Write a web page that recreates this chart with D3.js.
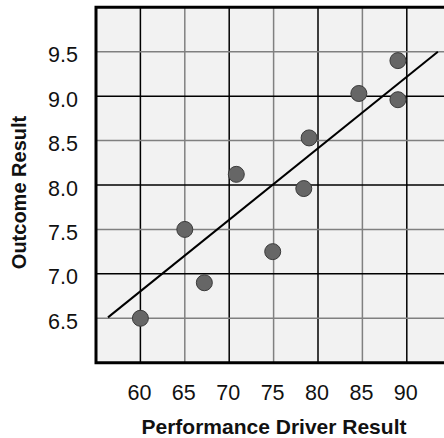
<!DOCTYPE html>
<html>
<head>
<meta charset="utf-8">
<script src="https://cdn.jsdelivr.net/npm/d3@7"></script>
<style>
  html, body { margin: 0; padding: 0; background: #fff; }
  svg { display: block; }
  text { font-family: "Liberation Sans", Arial, sans-serif; fill: #111; }
</style>
</head>
<body>
<svg id="chart" width="444" height="438"></svg>
<script>
// Performance driver (x) vs outcome (y) observations
const driverValues  = [60, 65, 67.2, 70.8, 74.9, 78.4, 79.0, 84.6, 89.0, 89.0];
const outcomeValues = [6.5, 7.5, 6.9, 8.12, 7.25, 7.96, 8.53, 9.03, 9.40, 8.96];

// Fitted trend line end points [driver, outcome]
const trendStart = [56.35, 6.51];
const trendEnd   = [93.5, 9.5];

// Axis ticks
const xTicks = [60, 65, 70, 75, 80, 85, 90];
const yTicks = [6.5, 7.0, 7.5, 8.0, 8.5, 9.0, 9.5];
const xGrid  = [60, 65, 70, 75, 80, 85, 90, 95];
const yGrid  = [6.5, 7.0, 7.5, 8.0, 8.5, 9.0, 9.5];

const xTitle = "Performance Driver Result";
const yTitle = "Outcome Result";

const svg = d3.select("#chart");

const plot = { left: 96, top: 7.3, bottom: 362.7, right: 495.6 };

const x = d3.scaleLinear().domain([55, 100]).range([plot.left, plot.right]);
const y = d3.scaleLinear().domain([6, 10]).range([plot.bottom, plot.top]);

// Plot background
svg.append("rect")
  .attr("x", plot.left).attr("y", plot.top)
  .attr("width", plot.right - plot.left)
  .attr("height", plot.bottom - plot.top)
  .attr("fill", "#f2f2f2");

// Grid: whole units drawn black, half units drawn grey
const isMajorX = v => v % 10 === 0;
const isMajorY = v => Math.abs(v - Math.round(v)) < 1e-9;

svg.append("g").selectAll("line").data(xGrid).join("line")
  .attr("x1", d => x(d)).attr("x2", d => x(d))
  .attr("y1", plot.top).attr("y2", plot.bottom)
  .attr("stroke", d => isMajorX(d) ? "#000" : "#808080")
  .attr("stroke-width", 1.5);

svg.append("g").selectAll("line").data(yGrid).join("line")
  .attr("x1", plot.left).attr("x2", plot.right)
  .attr("y1", d => y(d)).attr("y2", d => y(d))
  .attr("stroke", d => isMajorY(d) ? "#000" : "#808080")
  .attr("stroke-width", 1.5);

// Frame
const frame = svg.append("g").attr("stroke", "#000").attr("stroke-width", 3).attr("fill", "none");
frame.append("path")
  .attr("d", `M${plot.right},${plot.top}H${plot.left}V${plot.bottom}H${plot.right}`)
  .attr("stroke-linecap", "square");

// Trend line
svg.append("line")
  .attr("x1", x(trendStart[0])).attr("y1", y(trendStart[1]))
  .attr("x2", x(trendEnd[0])).attr("y2", y(trendEnd[1]))
  .attr("stroke", "#000").attr("stroke-width", 2);

// Observations
const points = driverValues.map((d, i) => ({ x: d, y: outcomeValues[i] }));
svg.append("g").selectAll("circle").data(points).join("circle")
  .attr("cx", d => x(d.x)).attr("cy", d => y(d.y))
  .attr("r", 8)
  .attr("fill", "#666")
  .attr("stroke", "#3a3a3a")
  .attr("stroke-width", 1);

// Tick labels
svg.append("g").selectAll("text").data(xTicks).join("text")
  .attr("x", d => x(d) - 1).attr("y", 400)
  .attr("text-anchor", "middle")
  .attr("font-size", 21.5)
  .text(d => d);

svg.append("g").selectAll("text").data(yTicks).join("text")
  .attr("x", 78).attr("y", d => y(d) + 10.5)
  .attr("text-anchor", "end")
  .attr("font-size", 21.5)
  .text(d => d3.format(".1f")(d));

// Axis titles
svg.append("text")
  .attr("x", 274).attr("y", 434)
  .attr("text-anchor", "middle")
  .attr("font-size", 21)
  .attr("font-weight", "bold")
  .text(xTitle);

svg.append("text")
  .attr("transform", "translate(26,192.5) rotate(-90)")
  .attr("text-anchor", "middle")
  .attr("font-size", 20)
  .attr("font-weight", "bold")
  .text(yTitle);
</script>
</body>
</html>
